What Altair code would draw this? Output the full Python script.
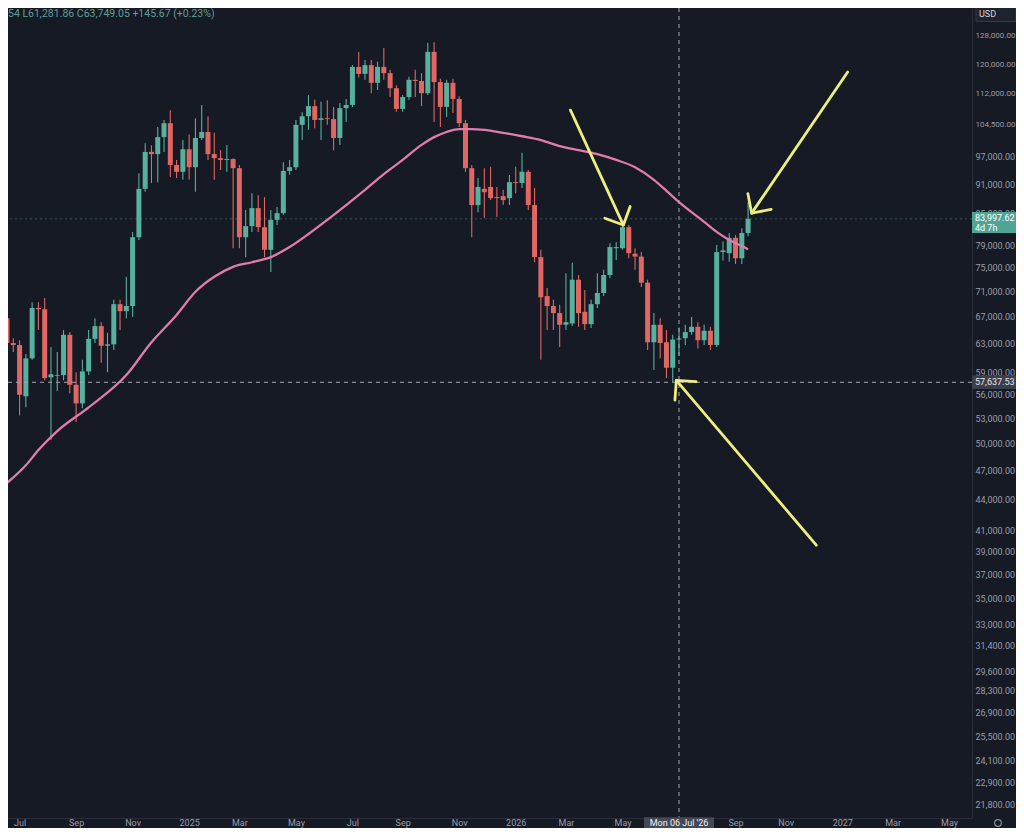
import altair as alt
import pandas as pd

# ---------------- data ----------------
FIRST_WEEK = "2024-06-17"   # Monday of the first weekly candle

opens = [66800, 63100, 62800, 55800, 60900, 68400, 68200, 58300, 58500, 58600,
         64300, 57300, 54900, 59100, 63700, 65600, 62700, 62900, 69000, 67900,
         68700, 80500, 90000, 98000, 97500, 101400, 104700, 95100, 93600, 98600,
         94600, 101200, 102600, 97500, 96600, 96200, 96400, 94400, 80500, 82600,
         86100, 82400, 78200, 83800, 85100, 93800, 94600, 104300, 106400, 108900,
         105500, 105900, 105700, 101200, 108400, 109200, 119200, 117300, 119700, 114900,
         119200, 117500, 113500, 108200, 111200, 115700, 115400, 112200, 123400, 115100,
         108700, 114900, 110700, 104700, 94400, 86700, 90000, 90400, 88300, 88500,
         88100, 91400, 91200, 93600, 86700, 76900, 70300, 68700, 67600, 65800,
         66000, 73000, 67800, 65900, 69000, 70800, 73800, 78500, 78500, 82400,
         77500, 77000, 72500, 63200, 65800, 63200, 59600, 63600, 63800, 64700,
         65500, 63500, 64900, 62800, 77800, 77600, 80400, 76700, 81300]
highs = [68500, 63800, 63500, 61500, 69300, 69300, 70000, 62500, 61800, 65000,
         64700, 59000, 60700, 65000, 66800, 66200, 64600, 69700, 69700, 73500,
         81500, 93300, 100000, 99500, 103800, 105500, 107900, 96200, 100700, 102000,
         105900, 109200, 106400, 102400, 98400, 99600, 96600, 95100, 85700, 89100,
         88700, 88300, 85700, 86300, 95700, 96200, 105500, 107400, 111700, 110500,
         110000, 110400, 108700, 109700, 110700, 119700, 123400, 121100, 121100, 120600,
         124500, 118400, 114300, 111700, 116500, 118400, 117500, 126000, 126200, 116000,
         115700, 116000, 111400, 105500, 95100, 92300, 94400, 94700, 90400, 89800,
         92900, 94700, 97800, 94000, 90200, 78200, 71600, 69700, 68900, 74100,
         75900, 73800, 71300, 69700, 74100, 74700, 79400, 79600, 82800, 82800,
         78500, 77800, 73000, 67600, 66800, 65000, 64300, 65400, 65800, 67000,
         66200, 65800, 65500, 79100, 79700, 81300, 80900, 82200, 87300]
lows = [62500, 61800, 53400, 54400, 60700, 65000, 57900, 50500, 56500, 57900,
        56200, 52600, 54300, 58600, 63100, 60300, 59000, 62100, 65000, 66800,
        67000, 80000, 89400, 91200, 91400, 98000, 92500, 92300, 91900, 91900,
        89400, 100700, 96200, 91900, 94000, 93600, 78500, 78500, 76900, 81500,
        81500, 76900, 74300, 82800, 84800, 93000, 94000, 100700, 103100, 103500,
        100700, 104300, 98400, 99600, 105000, 108700, 116300, 115700, 112200, 113000,
        115700, 111200, 107500, 107500, 110500, 111200, 108900, 111700, 105000, 103800,
        106200, 107200, 103800, 93600, 80500, 85300, 84200, 87700, 84400, 86700,
        86700, 89100, 90200, 85700, 76000, 60700, 65000, 65000, 62500, 65000,
        65600, 65500, 65000, 65300, 68400, 70300, 73300, 76400, 78200, 76700,
        74700, 71800, 62100, 59300, 60900, 58200, 57640, 61280, 62800, 64300,
        62300, 62800, 62100, 62500, 76300, 76100, 75700, 75700, 80700]
closes = [63100, 62800, 56000, 60900, 68400, 68200, 58200, 58700, 58600, 64300,
          57300, 54900, 59100, 63700, 65600, 62700, 62900, 69000, 67900, 68700,
          80500, 90000, 98000, 97500, 101400, 104700, 95100, 93600, 98600, 94600,
          101200, 102600, 97500, 96600, 96200, 96400, 94400, 80500, 82600, 86100,
          82400, 78200, 83800, 85100, 93800, 94600, 104300, 106400, 108900, 105500,
          105900, 105700, 101200, 108400, 109200, 119200, 117300, 119700, 114900, 119200,
          117500, 113500, 108200, 111200, 115700, 115400, 112200, 123400, 115100, 108700,
          114900, 110700, 104700, 94400, 86700, 90400, 89300, 88100, 88100, 87700,
          91400, 91200, 93600, 86700, 76900, 70100, 68700, 67600, 65800, 66200,
          73000, 67600, 65900, 69000, 70800, 73800, 78700, 78700, 82400, 77600,
          77000, 72500, 63200, 65800, 63100, 59600, 63600, 63750, 64700, 65500,
          63500, 64900, 62800, 77800, 78100, 80400, 76700, 81300, 83998]

# pink moving-average line, sampled points
ma_dates = ["2024-06-17", "2024-07-08", "2024-07-22", "2024-08-12", "2024-09-16",
            "2024-10-28", "2024-11-25", "2024-12-23", "2025-01-13", "2025-02-03",
            "2025-02-24", "2025-03-17", "2025-04-07", "2025-04-28", "2025-05-19",
            "2025-06-09", "2025-06-30", "2025-07-21", "2025-08-11", "2025-09-01",
            "2025-09-22", "2025-10-06", "2025-10-20", "2025-11-03", "2025-11-17",
            "2025-12-01", "2025-12-22", "2026-01-12", "2026-02-02", "2026-02-23",
            "2026-03-16", "2026-04-06", "2026-04-27", "2026-05-18", "2026-06-08",
            "2026-06-22", "2026-07-06", "2026-07-20", "2026-08-03", "2026-08-17",
            "2026-08-31", "2026-09-14", "2026-09-21"]
ma_values = [45700, 47600, 49300, 51500, 54400, 58600, 63200, 67300, 71000, 73500,
             75200, 76000, 76900, 78700, 81100, 83800, 86700, 89800, 93100, 96200,
             99600, 101400, 102600, 103300, 103300, 103100, 102400, 101600, 100700, 99300,
             98400, 97500, 96200, 94600, 91900, 89600, 87300, 85300, 83400, 81500,
             80000, 78900, 78300]

last_price = 83997.62
last_price_text = "83,997.62"
countdown_text = "4d 7h"
cross_date = "2026-07-06"
cross_date_text = "Mon 06 Jul '26"
cross_price = 57637.53
cross_price_text = "57,637.53"
legend_text = "54 L61,281.86 C63,749.05 +145.67 (+0.23%)"
currency_text = "USD"

y_ticks = [128000, 120000, 112000, 104500, 97000, 91000, 85000, 79000, 75000, 71000,
           67000, 63000, 59000, 56000, 53000, 50000, 47000, 44000, 41000, 39000,
           37000, 35000, 33000, 31400, 29600, 28300, 26900, 25500, 24100, 22900, 21800]
x_ticks = ["2024-07-01", "2024-09-02", "2024-11-04", "2025-01-06", "2025-03-03",
           "2025-05-05", "2025-07-07", "2025-09-01", "2025-11-03", "2026-01-05",
           "2026-03-02", "2026-05-04", "2026-09-07", "2026-11-02", "2027-01-04",
           "2027-03-01", "2027-05-03"]

arrow_ids = ["a1", "a2", "a3"]
arrow_from_dates = ["2026-03-07", "2027-01-10", "2026-12-06"]
arrow_from_prices = [107900, 117800, 39600]
arrow_to_dates = ["2026-05-05", "2026-09-25", "2026-07-03"]
arrow_to_prices = [82800, 85100, 57900]
arrow_angles = [65, 124, 229]

# ---------------- layout / style ----------------
W, H = 964, 810
X_DOMAIN = ["2024-06-23 16:05", "2027-05-22 23:45"]
Y_DOMAIN = [21119, 136530]
BG = "#161a25"
UP = "#58b09e"
DOWN = "#e06763"
PINK = "#e27bae"
YEL = "#eeee7c"
TXT = "#9a9ea7"
LINE = "#2a2e39"
FONT = "Roboto"
FS = 9

x_dom_ms = [int(pd.Timestamp(s).value // 10**6) for s in X_DOMAIN]
xs = alt.Scale(domain=x_dom_ms)
ys = alt.Scale(type="log", domain=Y_DOMAIN, nice=False)

weeks = pd.date_range(FIRST_WEEK, periods=len(opens), freq="7D")
candles = pd.DataFrame({
    "week": [d.strftime("%Y-%m-%d") for d in weeks],
    "open": opens, "high": highs, "low": lows, "close": closes,
})
candles["dir"] = ["up" if c >= o else "down" for o, c in zip(opens, closes)]
color = alt.Color("dir:N", scale=alt.Scale(domain=["up", "down"], range=[UP, DOWN]), legend=None)

x_tick_ms = [int(pd.Timestamp(s).value // 10**6) for s in x_ticks]

x_axis = alt.Axis(
    values=x_tick_ms,
    labelExpr="utcFormat(datum.value, '%m') == '01' ? utcFormat(datum.value, '%Y') : utcFormat(datum.value, '%b')",
    title=None, ticks=False, grid=False, domainColor=LINE, labelColor=TXT,
    labelFont=FONT, labelFontSize=FS, labelPadding=0,
)
y_axis = alt.Axis(
    orient="right", values=y_ticks, format=",.2f", title=None, ticks=False, grid=False,
    domainColor=LINE, labelColor=TXT, labelFont=FONT,
    labelFontSize=alt.condition("datum.value >= 100000", alt.value(8.1), alt.value(FS)),
    labelPadding=3,
)


def X(field):
    return alt.X(field, scale=xs, axis=x_axis)


def Y(field):
    return alt.Y(field, scale=ys, axis=y_axis)


wicks = alt.Chart(candles).mark_rule(strokeWidth=1.1).encode(
    x=X("week:T"), y=Y("low:Q"), y2="high:Q", color=color,
)
price_line = alt.Chart(pd.DataFrame({"price": [last_price]})).mark_rule(
    color="#4f7a74", strokeDash=[2, 3], strokeWidth=1, opacity=0.6
).encode(y=Y("price:Q"))
bodies = alt.Chart(candles).mark_bar(width=5).encode(
    x=X("week:T"), y=Y("open:Q"), y2="close:Q", color=color,
)
ma = alt.Chart(pd.DataFrame({"date": ma_dates, "ma": ma_values})).mark_line(
    interpolate="monotone", color=PINK, strokeWidth=2.3
).encode(x=X("date:T"), y=Y("ma:Q"))

vline = alt.Chart(pd.DataFrame({"date": [cross_date]})).mark_rule(
    color="#a3a6ae", strokeDash=[4, 4], strokeWidth=1
).encode(x=X("date:T"))
hline = alt.Chart(pd.DataFrame({"price": [cross_price]})).mark_rule(
    color="#a3a6ae", strokeDash=[4, 4], strokeWidth=1
).encode(y=Y("price:Q"))

shaft_df = pd.DataFrame({
    "id": arrow_ids + arrow_ids,
    "date": arrow_from_dates + arrow_to_dates,
    "price": arrow_from_prices + arrow_to_prices,
    "k": [0, 0, 0, 1, 1, 1],
})
shafts = alt.Chart(shaft_df).mark_line(color=YEL, strokeWidth=2.8, strokeCap="round").encode(
    x=X("date:T"), y=Y("price:Q"), detail="id:N", order="k:Q",
)
head_df = pd.DataFrame({"date": arrow_to_dates, "price": arrow_to_prices, "angle": arrow_angles})
heads = alt.Chart(head_df).mark_point(
    shape="M-1,-1L0,0L-1,1", size=784, filled=False, stroke=YEL, strokeWidth=2.8,
    strokeCap="round", strokeJoin="round", opacity=1
).encode(x=X("date:T"), y=Y("price:Q"), angle=alt.Angle("angle:Q", scale=None))

# right-axis price labels
lp_df = pd.DataFrame({"price": [last_price], "label": [last_price_text], "cd": [countdown_text]})
lp_box = alt.Chart(lp_df).mark_point(
    shape="M-2.6,-1.05L2.6,-1.05L2.6,1.05L-2.6,1.05Z", size=400, filled=True,
    fill="#4fa493", strokeWidth=0, opacity=1, yOffset=3.7
).encode(x=alt.value(W + 26), y=Y("price:Q"))
lp_txt = alt.Chart(lp_df).mark_text(
    align="left", baseline="middle", font=FONT, fontSize=FS, color="#ffffff", dy=-1
).encode(x=alt.value(W + 3), y=Y("price:Q"), text="label:N")
lp_cd = alt.Chart(lp_df).mark_text(
    align="left", baseline="middle", font=FONT, fontSize=FS, color="#ffffff", dy=9
).encode(x=alt.value(W + 3), y=Y("price:Q"), text="cd:N")

cp_df = pd.DataFrame({"price": [cross_price], "label": [cross_price_text]})
cp_box = alt.Chart(cp_df).mark_point(
    shape="M-2.6,-0.68L2.6,-0.68L2.6,0.68L-2.6,0.68Z", size=400, filled=True,
    fill="#3b3f4b", strokeWidth=0, opacity=1
).encode(x=alt.value(W + 26), y=Y("price:Q"))
cp_txt = alt.Chart(cp_df).mark_text(
    align="left", baseline="middle", font=FONT, fontSize=FS, color="#e6e8ee"
).encode(x=alt.value(W + 3), y=Y("price:Q"), text="label:N")

cd_df = pd.DataFrame({"date": [cross_date], "label": [cross_date_text]})
cd_box = alt.Chart(cd_df).mark_point(
    shape="M-3.5,-0.58L3.5,-0.58L3.5,0.58L-3.5,0.58Z", size=400, filled=True,
    fill="#454955", strokeWidth=0, opacity=1
).encode(x=X("date:T"), y=alt.value(H + 5))
cd_txt = alt.Chart(cd_df).mark_text(
    align="center", baseline="middle", font=FONT, fontSize=FS, color="#eef0f4"
).encode(x=X("date:T"), y=alt.value(H + 5), text="label:N")

misc_df = pd.DataFrame({"legend": [legend_text], "cur": [currency_text]})
legend = alt.Chart(misc_df).mark_text(
    align="left", baseline="middle", font=FONT, fontSize=10.5, color="#5f9f95"
).encode(x=alt.value(0), y=alt.value(6), text="legend:N")
usd_box = alt.Chart(misc_df).mark_point(
    shape="M-2.0,-0.75L2.0,-0.75L2.0,0.75L-2.0,0.75Z", size=400, filled=True,
    fill="#1f232e", stroke="#363a45", strokeWidth=1, opacity=1
).encode(x=alt.value(W + 24), y=alt.value(6))
usd_txt = alt.Chart(misc_df).mark_text(
    align="left", baseline="middle", font=FONT, fontSize=FS, color="#d1d4dc"
).encode(x=alt.value(W + 7), y=alt.value(6), text="cur:N")
gear = alt.Chart(misc_df).mark_point(
    shape="circle", size=45, filled=False, stroke="#8b8f99", strokeWidth=1.2, opacity=1
).encode(x=alt.value(W + 26), y=alt.value(H + 5))

chart = alt.layer(
    wicks, price_line, bodies, ma, vline, hline, shafts, heads,
    lp_box, lp_txt, lp_cd, cp_box, cp_txt, cd_box, cd_txt,
    legend, usd_box, usd_txt, gear,
).properties(
    width=W, height=H, background=BG,
    padding={"left": 0, "top": 0, "right": 1008 - W, "bottom": 10},
    autosize=alt.AutoSizeParams(type="none"),
).configure_view(stroke=None)

chart.save("out.html", embed_options={"renderer": "svg", "actions": False})
